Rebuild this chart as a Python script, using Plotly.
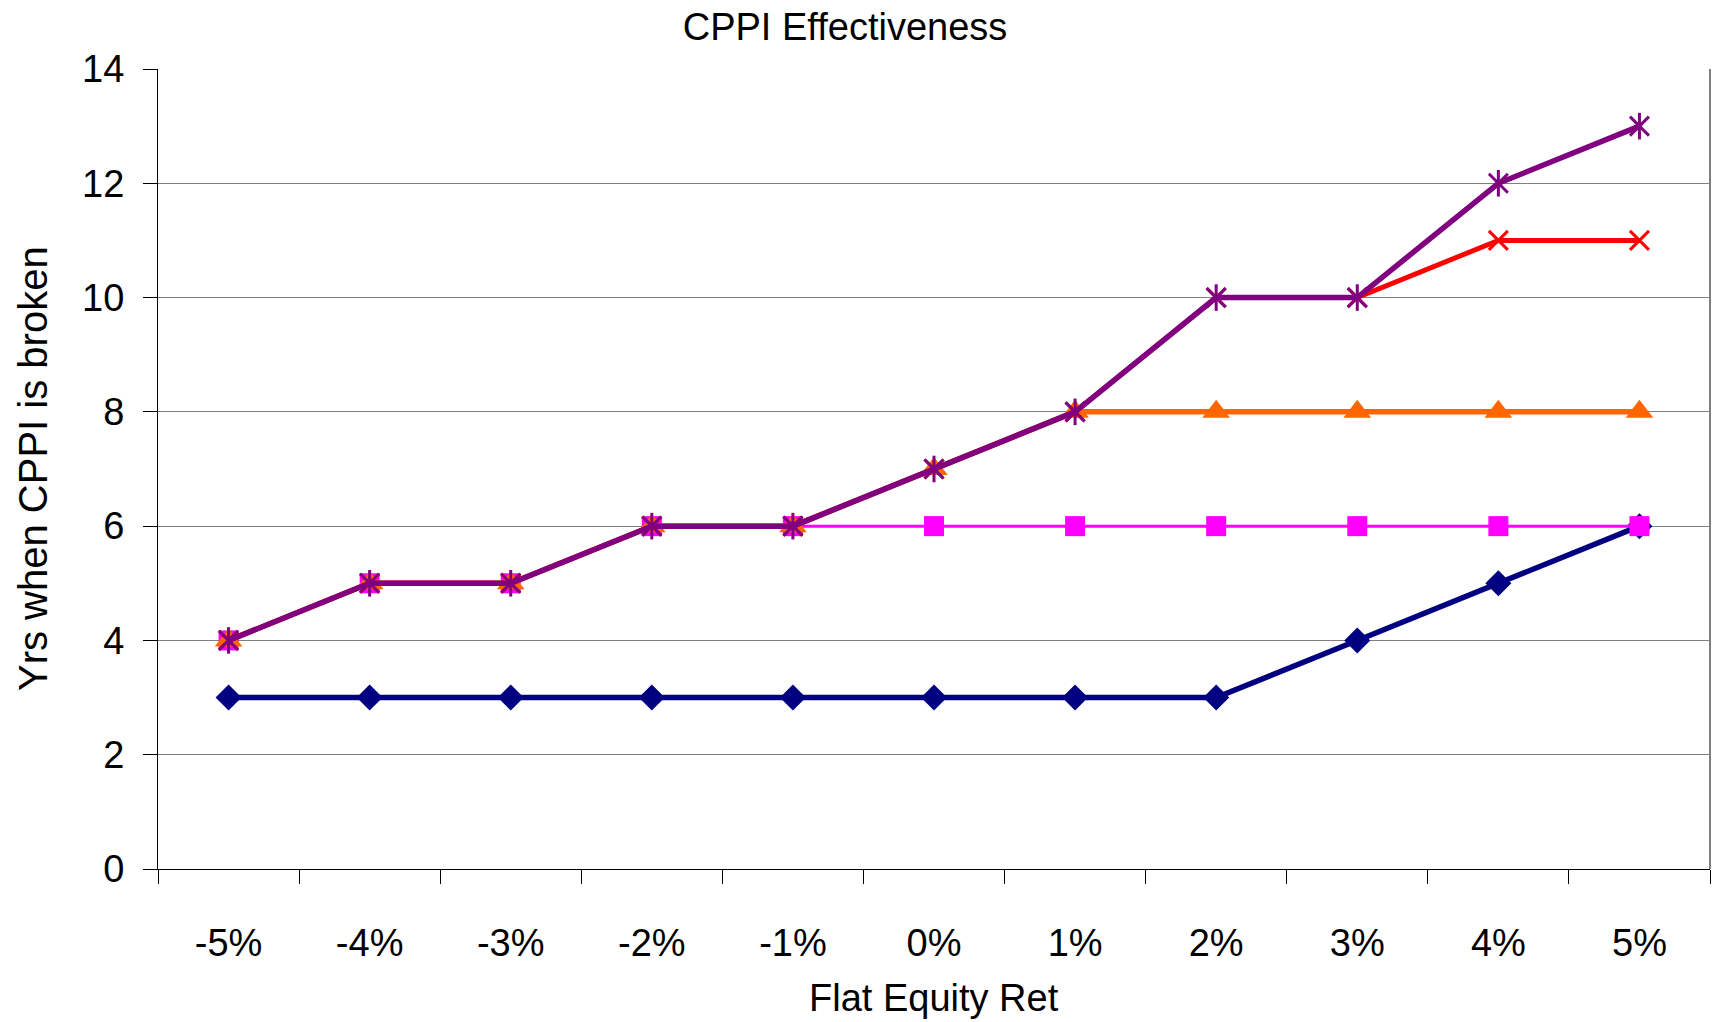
import plotly.graph_objects as go

# Flat equity return scenarios (x categories)
returns = ["-5%", "-4%", "-3%", "-2%", "-1%", "0%", "1%", "2%", "3%", "4%", "5%"]

# Years until the CPPI floor is broken, one list per strategy
yrs_navy = [3, 3, 3, 3, 3, 3, 3, 3, 4, 5, 6]
yrs_magenta = [4, 5, 5, 6, 6, 6, 6, 6, 6, 6, 6]
yrs_orange = [4, 5, 5, 6, 6, 7, 8, 8, 8, 8, 8]
yrs_red = [4, 5, 5, 6, 6, 7, 8, 10, 10, 11, 11]
yrs_purple = [4, 5, 5, 6, 6, 7, 8, 10, 10, 12, 13]

y_ticks = [0, 2, 4, 6, 8, 10, 12, 14]

FONT = "Liberation Sans, Arial, sans-serif"
FS = 38

fig = go.Figure()

fig.add_trace(go.Scatter(
    x=returns, y=yrs_navy, mode="lines+markers",
    line=dict(color="#000080", width=5.5),
    marker=dict(symbol="diamond", size=20, color="#000080"),
))
fig.add_trace(go.Scatter(
    x=returns, y=yrs_magenta, mode="lines+markers",
    line=dict(color="#FF00FF", width=3),
    marker=dict(symbol="square", size=20, color="#FF00FF"),
))
fig.add_trace(go.Scatter(
    x=returns, y=yrs_orange, mode="lines+markers",
    line=dict(color="#FF6600", width=5.5),
    marker=dict(symbol="triangle-up", size=24, color="#FF6600"),
))
fig.add_trace(go.Scatter(
    x=returns, y=yrs_red, mode="lines+markers",
    line=dict(color="#FF0000", width=5),
    marker=dict(symbol="x-thin-open", size=19, color="#FF0000",
                line=dict(color="#FF0000", width=3)),
))
fig.add_trace(go.Scatter(
    x=returns, y=yrs_purple, mode="lines+markers",
    line=dict(color="#800080", width=5.5),
    marker=dict(symbol="x-thin-open", size=19, color="#800080",
                line=dict(color="#800080", width=3)),
))
# vertical stroke completing the star marker
fig.add_trace(go.Scatter(
    x=returns, y=yrs_purple, mode="markers",
    marker=dict(symbol="line-ns-open", size=19, color="#800080",
                line=dict(color="#800080", width=3)),
))

fig.update_layout(
    width=1716, height=1022,
    margin=dict(l=158, r=6, t=69, b=153),
    paper_bgcolor="white", plot_bgcolor="white",
    showlegend=False,
    font=dict(family=FONT, size=FS, color="black"),
    title=dict(text="CPPI Effectiveness", x=845 / 1716, xref="container", xanchor="center",
               y=1 - 27 / 1022, yref="container", yanchor="middle",
               font=dict(family=FONT, size=FS, color="black")),
    xaxis=dict(
        type="category", categoryorder="array", categoryarray=returns,
        range=[-0.5, 10.5],
        showline=True, linecolor="black", linewidth=1,
        ticks="outside", ticklen=14, tickcolor="black", tickwidth=1,
        tickson="boundaries", showgrid=False,
        ticklabelstandoff=40,
        tickfont=dict(family=FONT, size=FS, color="black"),
    ),
    yaxis=dict(
        range=[0, 14], tickvals=y_ticks,
        showline=True, linecolor="black", linewidth=1,
        ticks="outside", ticklen=14, tickcolor="black", tickwidth=1,
        showgrid=True, gridcolor="#808080", gridwidth=1, zeroline=False,
        ticklabelstandoff=11,
        tickfont=dict(family=FONT, size=FS, color="black"),
    ),
    # overlay axes carrying the inner half of the crossing tick marks
    xaxis2=dict(
        overlaying="x", anchor="y", side="bottom", range=[-0.5, 10.5],
        tickvals=[i - 0.5 for i in range(len(returns) + 1)],
        ticks="inside", ticklen=14, tickcolor="black", tickwidth=1,
        showticklabels=False, showgrid=False, showline=False, zeroline=False,
    ),
    yaxis2=dict(
        overlaying="y", anchor="x", side="left", range=[0, 14], tickvals=y_ticks,
        ticks="inside", ticklen=14, tickcolor="black", tickwidth=1,
        showticklabels=False, showgrid=False, showline=False, zeroline=False,
    ),
    shapes=[dict(type="line", xref="paper", yref="paper", x0=1, x1=1, y0=0, y1=1,
                 line=dict(color="#808080", width=2))],
    annotations=[
        dict(text="Flat Equity Ret", xref="paper", x=0.5, xanchor="center",
             yref="paper", y=-(998 - 869) / 800, yanchor="middle",
             showarrow=False, font=dict(family=FONT, size=FS, color="black")),
        dict(text="Yrs when CPPI is broken", xref="paper", x=-(158 - 33) / 1552, xanchor="center",
             yref="paper", y=0.5, yanchor="middle", textangle=-90,
             showarrow=False, font=dict(family=FONT, size=40, color="black")),
    ],
)

fig.write_html("out.html")
